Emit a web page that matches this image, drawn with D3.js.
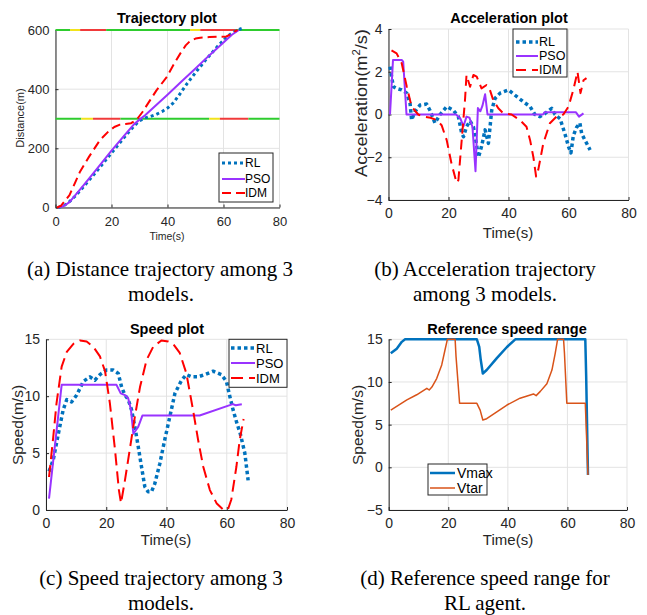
<!DOCTYPE html>
<html><head><meta charset="utf-8">
<script src="https://cdn.jsdelivr.net/npm/d3@7"></script>
<style>body{margin:0;background:#fff}svg{display:block}</style>
</head><body>
<svg id="c" width="647" height="615"></svg>
<script>
// ---------------- DATA ----------------
const timeTicks = [0, 20, 40, 60, 80];
const distTicks = [0, 200, 400, 600];
const accTicks = [-4, -2, 0, 2, 4];
const speedTicks = [0, 5, 10, 15];
const refTicks = [-5, 0, 5, 10, 15];
const modelNames = ["RL", "PSO", "IDM"];
const refNames = ["Vmax", "Vtar"];

// traffic light phases [start, end, phase] at the two signal positions (m)
const lightPositions = [300, 600];
const lightPhases300 = [[0,9.2,"green"],[9.2,13.4,"yellow"],[13.4,23.2,"red"],[23.2,54.9,"green"],[54.9,58.7,"yellow"],[58.7,68.9,"red"],[68.9,80,"green"]];
const lightPhases600 = [[0,5.2,"green"],[5.2,8.8,"yellow"],[8.8,18.1,"red"],[18.1,48.1,"green"],[48.1,51.7,"yellow"],[51.7,64.2,"red"],[64.2,80,"green"]];

// distance [t, d]
const distRL = [[1,0],[3,6],[5,20],[7,38],[10,70],[15,126],[20,184],[25,242],[28,275],[30,293],[32,303],[34,308],[36,315],[38,324],[40,336],[42,353],[44,378],[47,419],[50,456],[54,503],[58,546],[61,575],[63,590],[65,600],[66.5,605]];
const distPSO = [[1,0],[3,5],[5,18],[10,75],[15,133],[20,192],[25,248],[28,281],[30,297],[32,312],[40,381],[45,426],[50,470],[55,515],[60,558],[63,584],[65.5,600]];
const distIDM = [[0.5,0],[2,6],[5,42],[8.8,122],[12,172],[15.9,228],[19,258],[21,272],[23,280],[25,282],[27,285],[29,297],[31,322],[33.8,363],[36,395],[39.8,442],[42,480],[44.6,521],[46.5,548],[48.1,563],[50,571],[51.7,574],[55,576],[58,577],[61,578],[62.5,585],[64,595],[65,600]];

// acceleration [t, a]
const accRL = [[0.5,2.24],[1.6,1.3],[2.7,1.22],[4.4,1.15],[6.1,1.0],[7.2,0.5],[7.7,-0.26],[8.8,0.13],[10.5,0.44],[12.7,0.49],[13.8,0.2],[15.5,-0.4],[17.2,0],[19.4,0.37],[21.6,0.2],[23.3,-0.1],[24.4,-0.88],[25,-1.04],[26,-0.57],[27.2,-0.3],[28.3,-0.57],[29.1,-1.2],[30,-2.0],[31,-1.5],[32.2,-0.72],[33.3,-1.35],[34.4,0.2],[35.5,0.75],[37.2,1.0],[40,1.15],[42.2,0.9],[44.9,0.6],[47.2,0.37],[48.8,0],[50.5,-0.1],[52.2,0.05],[54.4,0.29],[55.5,0],[57.2,-0.2],[58.8,-0.9],[60,-1.5],[60.8,-1.8],[61.6,-1.0],[62.7,-0.6],[63.8,-0.4],[64.4,-0.9],[65.5,-1.2],[67.2,-1.66]];
const accPSO = [[0.5,0],[1.5,2.55],[4.4,2.55],[4.9,2.47],[6,0],[22.5,0],[24,-0.2],[25,-0.55],[26,-0.1],[27,-0.15],[28,-0.6],[29,-2.65],[29.8,0.3],[30.6,0.15],[31.3,0.4],[32.2,0.95],[33,0],[51.5,0],[52,0.1],[62.5,0.1],[63.5,-0.1],[65,0.05]];
const accIDM = [[1,3.0],[2.7,2.86],[4.4,2.4],[6.1,1.3],[7.7,0.37],[9.9,0],[11.6,-0.1],[14,-0.15],[16,-0.26],[17.7,-0.5],[19.4,-1.2],[21,-2.3],[22.7,-3.2],[23.3,-3.07],[24.4,-1.2],[25.5,0.68],[26,1.85],[27.2,1.3],[28.3,1.85],[29.4,1.77],[31,1.22],[32.7,1.38],[33.8,1.15],[34.9,0.68],[36.6,0.29],[38.3,0.05],[41,0],[43.8,-0.26],[46,-0.57],[47.2,-1.2],[48.3,-2.0],[49.2,-2.9],[49.9,-2.6],[51.6,-1.35],[53.8,-0.41],[56,-0.1],[58.3,0],[60,0.37],[61.6,1.15],[63,2.0],[64,1.0],[65,1.6],[66,1.7]];

// speed [t, v]
const speedRL = [[1,3.4],[2.4,4.4],[4.1,6.7],[5.7,8.8],[6.9,9.7],[8.5,9.5],[10.2,10.1],[12.4,11.3],[14.6,11.7],[16.2,11.4],[17.9,11.9],[20.1,12.3],[22.3,12.3],[24,12.0],[25.1,10.8],[26.2,10.1],[27.3,9.7],[28.4,8.8],[29.5,7.3],[30.6,5.6],[31.7,3.8],[32.8,2.05],[33.9,1.6],[35,1.6],[36.1,2.3],[37.8,4.1],[39.4,6.15],[41.1,8.2],[42.8,10.25],[45,11.4],[46.6,11.9],[48.3,11.7],[50.5,11.7],[52.7,11.9],[55.5,12.2],[58.2,11.9],[59.9,11.3],[61,10],[62.1,8.8],[63.4,7.6],[64.5,6.7],[66,5.0],[67.1,2.6]];
const speedPSO = [[1,1.0],[5.2,11.0],[23.4,11.0],[24.8,10.25],[26.2,10.1],[27.3,9.8],[28.2,8.8],[29,6.7],[30.6,7.3],[32,8.3],[51,8.3],[62,9.3],[63,9.2],[65,9.3]];
const speedIDM = [[1,2.9],[2.4,6.4],[3.5,9.4],[5.2,12.6],[6.9,13.9],[9.1,14.6],[11.3,14.9],[13.5,14.8],[15.7,14.35],[17.9,13.5],[19.6,12.2],[21.2,9.4],[22.9,5.3],[24.2,1.75],[24.9,0.6],[26.2,2.6],[27.8,5.3],[29.5,8.2],[31.2,10.8],[33.4,13.2],[35.6,14.35],[38.3,14.9],[40.6,14.8],[42.2,14.6],[44.4,13.8],[46.6,12],[48.8,8.8],[50.5,6.15],[52.2,3.8],[54.4,1.75],[56.6,0.6],[58.8,0.05],[60.4,0.05],[61.5,0.9],[63.2,3.8],[64.3,6.15],[65.6,8.0]];

// reference speed range [t, v]
const refVmax = [[0.7,13.36],[2.7,13.9],[4.4,14.7],[5.5,15],[29.6,15],[30.4,14.1],[30.9,12.6],[31.6,11.0],[32.9,11.4],[36.3,12.8],[39.7,14.1],[42.5,15],[66,15],[66.3,10.6],[66.9,-0.9]];
const refVtar = [[0.7,6.7],[6.1,7.9],[9.4,8.5],[12.8,9.26],[13.6,9.06],[14.5,9.4],[16.1,10.4],[17.8,12],[18.9,13.75],[19.7,15],[22.3,15],[22.6,13],[23.8,7.5],[29.6,7.5],[30.7,6.7],[31.6,5.55],[32.9,5.7],[36.3,6.5],[39.7,7.3],[44.1,8.1],[48.6,8.6],[49.5,8.4],[50.9,8.9],[53.1,9.8],[54.8,11.4],[55.9,13.36],[56.7,15],[58.7,15],[59,13.4],[59.8,7.5],[66,7.5],[66.9,-0.9]];

// ---------------- DRAWING ----------------
const svg = d3.select("#c");
const SANS = "'Liberation Sans', Arial, sans-serif";
const SERIF = "'Liberation Serif', 'Times New Roman', serif";
const AX = "#262626", GRID = "#e3e3e3";
const C_RL = "#0072BD", C_PSO = "#9933FF", C_IDM = "#FF0000";
const C_VMAX = "#0072BD", C_VTAR = "#D95319";
const lightColor = {green: "#2ecc2e", yellow: "#f2e31b", red: "#f03a3a"};

function makePanel(o) {
  const x = d3.scaleLinear().domain(o.xDomain).range(o.xRange);
  const y = d3.scaleLinear().domain(o.yDomain).range(o.yRange);
  const g = svg.append("g");
  g.append("g").selectAll("line").data(o.xTicks).join("line")
    .attr("x1", d => x(d)).attr("x2", d => x(d))
    .attr("y1", o.yRange[0]).attr("y2", o.yRange[1])
    .attr("stroke", GRID).attr("stroke-width", 1);
  g.append("g").selectAll("line").data(o.yTicks).join("line")
    .attr("y1", d => y(d)).attr("y2", d => y(d))
    .attr("x1", o.xRange[0]).attr("x2", o.xRange[1])
    .attr("stroke", GRID).attr("stroke-width", 1);
  return {x, y, g};
}

function drawAxes(p, o) {
  const ax = p.g.append("g").attr("transform", `translate(0,${o.yRange[0]})`)
    .call(d3.axisBottom(p.x).tickValues(o.xTicks).tickSizeInner(-3).tickSizeOuter(0).tickPadding(o.xPad));
  const ay = p.g.append("g").attr("transform", `translate(${o.xRange[0]},0)`)
    .call(d3.axisLeft(p.y).tickValues(o.yTicks).tickSizeInner(-3).tickSizeOuter(0).tickPadding(o.yPad));
  [ax, ay].forEach(a => {
    a.select(".domain").attr("stroke", AX).attr("stroke-width", 1);
    a.selectAll(".tick line").attr("stroke", AX);
    a.selectAll(".tick text").attr("fill", AX).attr("font-family", SANS).attr("font-size", o.tickFont);
  });
}

function drawLine(p, data, st) {
  const line = d3.line().x(d => p.x(d[0])).y(d => p.y(d[1]));
  p.g.append("path").datum(data).attr("d", line)
    .attr("fill", "none").attr("stroke", st.color).attr("stroke-width", st.width)
    .attr("stroke-dasharray", st.dash || null).attr("stroke-linejoin", "round");
}

function text(x, y, str, size, opts = {}) {
  const t = svg.append("text").attr("x", x).attr("y", y).text(str)
    .attr("font-family", opts.family || SANS).attr("font-size", size)
    .attr("fill", opts.fill || AX).attr("text-anchor", opts.anchor || "middle")
    .attr("font-weight", opts.bold ? "bold" : "normal");
  if (opts.rotate) t.attr("transform", `rotate(-90 ${x} ${y})`);
  return t;
}

function legend(box, items, rows, sx1, sx2, tx, fs) {
  svg.append("rect").attr("x", box[0]).attr("y", box[1]).attr("width", box[2]).attr("height", box[3])
    .attr("fill", "#fff").attr("stroke", AX).attr("stroke-width", 1);
  items.forEach((it, i) => {
    svg.append("line").attr("x1", sx1).attr("x2", sx2).attr("y1", rows[i]).attr("y2", rows[i])
      .attr("stroke", it.color).attr("stroke-width", it.width).attr("stroke-dasharray", it.dash || null);
    text(tx, rows[i], it.name, fs, {anchor: "start"}).attr("dy", "0.35em").attr("fill", "#000");
  });
}

// ---------- Panel (a) ----------
{
  const o = {xDomain:[0,80], yDomain:[0,600], xRange:[55.5,279.5], yRange:[207.5,30],
             xTicks: timeTicks, yTicks: distTicks, xPad: 9, yPad: 6, tickFont: 13};
  const p = makePanel(o);
  drawAxes(p, o);
  [lightPhases300, lightPhases600].forEach((ph, i) => {
    p.g.append("g").selectAll("line").data(ph).join("line")
      .attr("x1", d => p.x(d[0])).attr("x2", d => p.x(d[1]))
      .attr("y1", p.y(lightPositions[i])).attr("y2", p.y(lightPositions[i]))
      .attr("stroke", d => lightColor[d[2]]).attr("stroke-width", 2);
  });
  const st = [{color:C_RL,width:3,dash:"3,3"},{color:C_PSO,width:2},{color:C_IDM,width:2,dash:"9,5"}];
  drawLine(p, distRL, st[0]); drawLine(p, distPSO, st[1]); drawLine(p, distIDM, st[2]);
  text(167, 23, "Trajectory plot", 14.5, {bold:true, fill:"#000"});
  text(167, 240, "Time(s)", 10.5);
  text(24, 118, "Distance(m)", 11, {rotate:true});
  legend([219,153,54,49], modelNames.map((n,i)=>({name:n, ...st[i]})), [163,179,193], 222, 245, 245, 12);
}

// ---------- Panel (b) ----------
{
  const o = {xDomain:[0,80], yDomain:[-4,4], xRange:[388.5,628.5], yRange:[200,29],
             xTicks: timeTicks, yTicks: accTicks, xPad: 8, yPad: 6, tickFont: 14};
  const p = makePanel(o);
  drawAxes(p, o);
  const st = [{color:C_RL,width:3.5,dash:"3.5,3"},{color:C_PSO,width:2},{color:C_IDM,width:2,dash:"10,6"}];
  drawLine(p, accRL, st[0]); drawLine(p, accPSO, st[1]); drawLine(p, accIDM, st[2]);
  text(509, 23, "Acceleration plot", 14.5, {bold:true, fill:"#000"});
  text(508, 238, "Time(s)", 15);
  const yl = svg.append("text").attr("font-family", SANS).attr("font-size", 16).attr("fill", AX)
    .attr("text-anchor", "middle").attr("transform", "translate(367,103) rotate(-90)");
  yl.append("tspan").text("Acceleration(m");
  yl.append("tspan").text("2").attr("font-size", 10).attr("dy", -7);
  yl.append("tspan").text("/s)").attr("dy", 7);
  const L = yl.node().getComputedTextLength();
  if (L > 0) yl.attr("transform", `translate(367,103) rotate(-90) scale(${148/L},1)`);
  legend([513,29,54,48], modelNames.map((n,i)=>({name:n, ...st[i]})), [42,56,70], 516, 538, 539, 12.5);
}

// ---------- Panel (c) ----------
{
  const o = {xDomain:[0,80], yDomain:[0,15], xRange:[46,287], yRange:[510,339.3],
             xTicks: timeTicks, yTicks: speedTicks, xPad: 8, yPad: 6, tickFont: 14};
  const p = makePanel(o);
  drawAxes(p, o);
  const st = [{color:C_RL,width:3.5,dash:"3.5,3"},{color:C_PSO,width:2},{color:C_IDM,width:2,dash:"12,6"}];
  drawLine(p, speedRL, st[0]); drawLine(p, speedPSO, st[1]); drawLine(p, speedIDM, st[2]);
  text(167, 334, "Speed plot", 14.5, {bold:true, fill:"#000"});
  text(166, 545, "Time(s)", 15);
  text(23, 425, "Speed(m/s)", 15.5, {rotate:true});
  legend([229,339.3,58,48], modelNames.map((n,i)=>({name:n, ...st[i]})), [348,363,378], 231, 255, 256, 13);
}

// ---------- Panel (d) ----------
{
  const o = {xDomain:[0,80], yDomain:[-5,15], xRange:[388.7,627], yRange:[510,339.3],
             xTicks: timeTicks, yTicks: refTicks, xPad: 8, yPad: 6, tickFont: 14};
  const p = makePanel(o);
  drawAxes(p, o);
  const st = [{color:C_VMAX,width:2.5},{color:C_VTAR,width:1.5}];
  drawLine(p, refVmax, st[0]); drawLine(p, refVtar, st[1]);
  text(507, 334, "Reference speed range", 14.5, {bold:true, fill:"#000"});
  text(508, 545, "Time(s)", 15);
  text(363, 425, "Speed(m/s)", 15.5, {rotate:true});
  legend([428,464,59,31], refNames.map((n,i)=>({name:n, ...st[i]})), [473,488], 430, 455, 457, 14);
}

// ---------- Captions ----------
const caps = [
  [160, 276, "(a) Distance trajectory among 3"], [161, 301, "models."],
  [485, 276, "(b) Acceleration trajectory"], [485, 301, "among 3 models."],
  [161, 585, "(c) Speed trajectory among 3"], [161, 610, "models."],
  [485, 585, "(d) Reference speed range for"], [485, 610, "RL agent."]
];
caps.forEach(c => text(c[0], c[1], c[2], 21, {family: SERIF, fill: "#000"}));
</script>
</body></html>
